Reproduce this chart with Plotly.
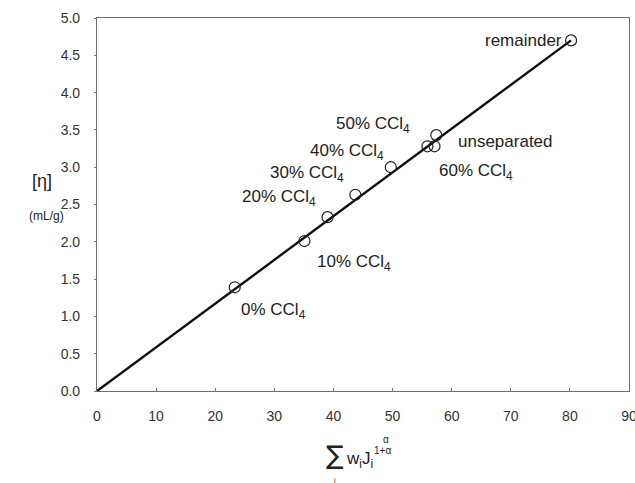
import plotly.graph_objects as go

labels = ["0% CCl<sub>4</sub>", "10% CCl<sub>4</sub>", "20% CCl<sub>4</sub>", "30% CCl<sub>4</sub>",
          "40% CCl<sub>4</sub>", "50% CCl<sub>4</sub>", "unseparated", "60% CCl<sub>4</sub>", "remainder"]
x_vals = [23.3, 35.1, 39.0, 43.7, 49.7, 57.4, 55.9, 57.1, 80.2]
y_vals = [1.39, 2.01, 2.33, 2.63, 3.00, 3.43, 3.28, 3.28, 4.70]
fit_x = [0, 80.2]
fit_y = [0, 4.70]
x_ticks = [0, 10, 20, 30, 40, 50, 60, 70, 80, 90]
y_ticks = [0.0, 0.5, 1.0, 1.5, 2.0, 2.5, 3.0, 3.5, 4.0, 4.5, 5.0]

# label offsets (pixels, y down) relative to each point: (dx, dy, xanchor)
offsets = [(4, 24, "left"), (11, 22, "left"), (-10, -19, "right"), (-9, -21, "right"),
           (-5, -15, "right"), (-24, -10, "right"), (29, -5, "left"), (2, 26, "left"), (-7, 0, "right")]

FONT = "Liberation Sans, Arial, Helvetica"
fig = go.Figure()
fig.add_trace(go.Scatter(x=fit_x, y=fit_y, mode="lines",
                         line=dict(color="#111111", width=2.4), showlegend=False))
fig.add_trace(go.Scatter(x=x_vals, y=y_vals, mode="markers",
                         marker=dict(symbol="circle-open", size=11, color="#222222", line=dict(width=1.2)),
                         showlegend=False))

for lab, xv, yv, (dx, dy, xa) in zip(labels, x_vals, y_vals, offsets):
    fig.add_annotation(x=xv, y=yv, text=lab, showarrow=False, xshift=dx, yshift=-dy,
                       xanchor=xa, yanchor="middle",
                       font=dict(family=FONT, size=17, color="#222222"))

axis_common = dict(showline=True, linecolor="#6e6e6e", linewidth=1.2, mirror=True,
                   showgrid=False, zeroline=False, ticklabeloverflow="allow", automargin=False,
                   tickfont=dict(family=FONT, size=14, color="#333333"))

fig.update_xaxes(range=[0, 90], tickvals=x_ticks, ticks="inside", ticklen=3, tickcolor="#777777",
                 ticklabelstandoff=12, **axis_common)
fig.update_yaxes(range=[0, 5], tickvals=y_ticks, tickformat=".1f", ticks="outside", ticklen=2,
                 tickcolor="#777777", ticklabelstandoff=11, **axis_common)

# axis titles as annotations
fig.add_annotation(xref="paper", yref="paper", x=-0.126, y=0.563, text="[η]", showarrow=False,
                   font=dict(family=FONT, size=18, color="#222222"))
fig.add_annotation(xref="paper", yref="paper", x=-0.131, y=0.468, text="(mL/g)", showarrow=False,
                   font=dict(family=FONT, size=12, color="#222222"))
fig.add_annotation(xref="paper", yref="paper", x=0.447, y=-0.217, text="∑", showarrow=False,
                   font=dict(family="DejaVu Sans", size=26, color="#222222"))
fig.add_annotation(xref="paper", yref="paper", x=0.465, y=-0.219,
                   text="w<sub>i</sub>J<sub>i</sub>", showarrow=False, xanchor="left",
                   font=dict(family=FONT, size=17, color="#222222"))
fig.add_annotation(xref="paper", yref="paper", x=0.537, y=-0.180, text="1+α", showarrow=False,
                   font=dict(family=FONT, size=10, color="#222222"))
fig.add_annotation(xref="paper", yref="paper", x=0.543, y=-0.150, text="α", showarrow=False,
                   font=dict(family=FONT, size=10, color="#222222"))
fig.add_annotation(xref="paper", yref="paper", x=0.447, y=-0.256, text="i", showarrow=False,
                   font=dict(family=FONT, size=7, color="#222222"))

fig.update_layout(width=635, height=483, margin=dict(l=97, r=6, t=18, b=92),
                  plot_bgcolor="white", paper_bgcolor="white")

fig.write_html("out.html")
